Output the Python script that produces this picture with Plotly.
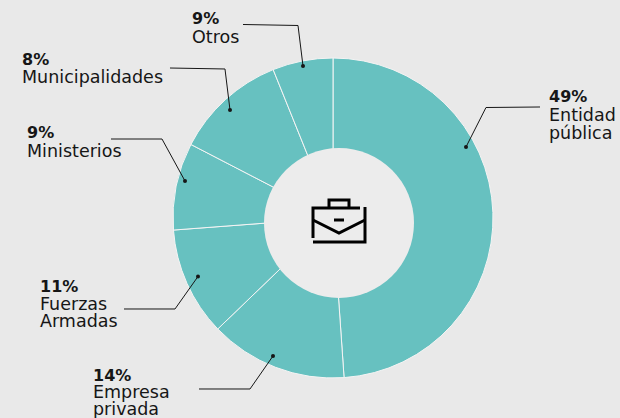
import plotly.graph_objects as go

W, H = 620, 418
categories = ["Entidad pública", "Empresa privada", "Fuerzas Armadas", "Ministerios", "Municipalidades", "Otros"]
# Slice sizes as drawn in the picture; printed labels below differ for two slices
drawn_shares = [48.9, 13.9, 11, 8.8, 11.3, 6.1]
printed_pct = ["49%", "14%", "11%", "9%", "8%", "9%"]
label_lines = [["Entidad", "pública"], ["Empresa", "privada"], ["Fuerzas", "Armadas"], ["Ministerios"], ["Municipalidades"], ["Otros"]]

TEAL = "#67c1c0"
BG = "#e9e9e9"
INK = "#161616"
FONT = "DejaVu Sans"

def px(x): return x / W
def py(y): return 1 - y / H

CX, CY, R = 333, 218, 160
HX, HY, HOLE = 339, 223, 75

fig = go.Figure(go.Pie(
    labels=categories, values=drawn_shares, sort=False, direction="clockwise", rotation=0,
    hole=0.35, textinfo="none", hoverinfo="none", showlegend=False,
    marker=dict(colors=[TEAL] * 6, line=dict(color="#f4f4f4", width=1)),
    domain=dict(x=[px(CX - R), px(CX + R)], y=[py(CY + R), py(CY - R)]),
))

shapes = [dict(type="circle", xref="paper", yref="paper", x0=px(HX - HOLE), x1=px(HX + HOLE),
               y0=py(HY + HOLE), y1=py(HY - HOLE), fillcolor="#ececec", line=dict(width=0), layer="above")]

def path(points, width=1.0, color=INK):
    d = "M " + " L ".join(f"{px(x):.5f},{py(y):.5f}" for x, y in points)
    shapes.append(dict(type="path", xref="paper", yref="paper", path=d, layer="above",
                       line=dict(color=color, width=width), fillcolor="rgba(0,0,0,0)"))

def dot(x, y, r=2):
    shapes.append(dict(type="circle", xref="paper", yref="paper", x0=px(x - r), x1=px(x + r),
                       y0=py(y + r), y1=py(y - r), fillcolor=INK, line=dict(width=0), layer="above"))

leaders = [
    [(540, 107), (486, 107.5), (466, 147)],
    [(199, 389), (250, 389), (273, 356)],
    [(124, 309), (175, 309), (198, 276.5)],
    [(111, 139), (162, 139), (185, 181)],
    [(170, 68), (225, 69), (230, 110)],
    [(243, 24.5), (298, 25.5), (303, 66)],
]
for pts in leaders:
    path(pts)
    dot(*pts[-1])

# Briefcase icon
for pts in [
    [(360, 208), (313, 208), (313, 238)],
    [(365, 207), (365, 242), (313, 242)],
    [(313, 220), (339, 233), (365, 220)],
    [(329, 208), (329, 200), (349, 200), (349, 208)],
    [(334, 220), (344, 220)],
]:
    path(pts, width=3, color="#000000")

annotations = []
def text(x, y, s, bold=False):
    annotations.append(dict(xref="paper", yref="paper", x=px(x), y=py(y), text=f"<b>{s}</b>" if bold else s,
                            showarrow=False, xanchor="left", yanchor="middle", align="left",
                            font=dict(family=FONT, size=16 if bold else 17.5, color=INK), borderpad=0, borderwidth=0))

label_pos = [(549, 97), (93, 375), (40, 286), (27, 133), (22, 59), (192, 19)]
label_step = [18, 17, 17.5, 18, 17.5, 17.5]
for (x, y), pct, lines, step in zip(label_pos, printed_pct, label_lines, label_step):
    text(x, y, pct, bold=True)
    for i, line in enumerate(lines):
        text(x, y + step * (i + 1), line)

fig.update_layout(width=W, height=H, margin=dict(l=0, r=0, t=0, b=0), paper_bgcolor=BG, plot_bgcolor=BG,
                  shapes=shapes, annotations=annotations, showlegend=False)
fig.write_html("out.html", config=dict(displayModeBar=False),
               post_script="document.body.style.margin='0';document.body.style.overflow='hidden';document.body.style.background='#e9e9e9';")
